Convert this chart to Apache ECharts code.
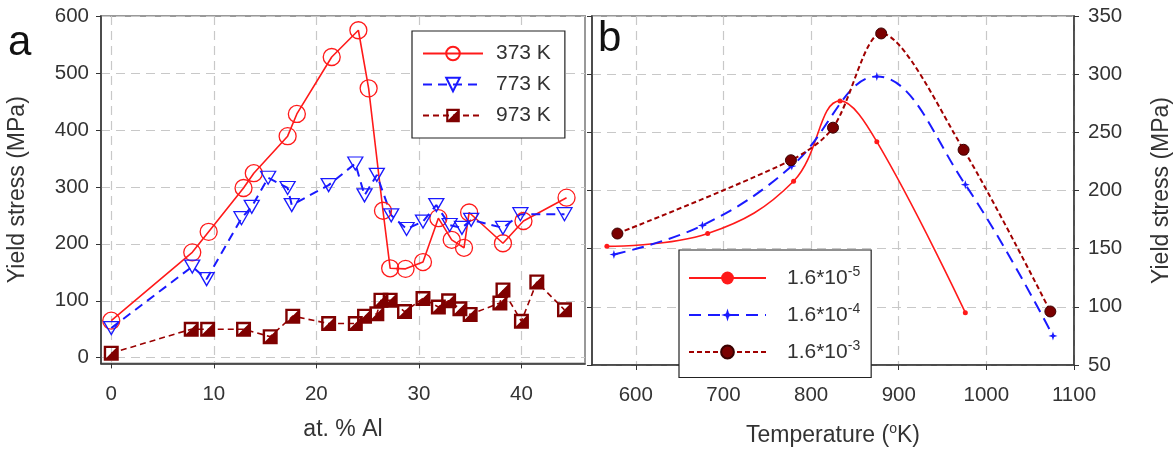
<!DOCTYPE html>
<html>
<head>
<meta charset="utf-8">
<script src="https://cdn.jsdelivr.net/npm/echarts@6/dist/echarts.min.js"></script>
<style>html,body{margin:0;padding:0;background:#fff}#c{width:1174px;height:453px}</style>
</head>
<body>
<div id="c"></div>
<script>
// ---- Panel a data: yield stress (MPa) vs at.% Al ----
const k373 = [[0,65],[7.9,185],[9.5,221],[12.9,298],[13.9,324],[17.2,389],[18.1,428],[21.5,528],[24.1,575],[25.1,473],[26.5,258],[27.2,157],[28.7,156],[30.4,168],[31.9,245],[33.2,207],[34.4,193],[34.9,255],[38.2,201],[40.2,240],[44.4,281]];
const k773 = [[0,52],[7.9,160],[9.3,138],[12.7,245],[13.7,265],[15.3,316],[17.2,298],[17.6,268],[21.2,303],[23.8,341],[24.7,285],[25.9,321],[27.3,250],[28.8,226],[30.4,239],[31.7,268],[33.0,233],[34.2,228],[35.1,242],[38.2,228],[39.9,252],[44.2,252]];
const k973 = [[0,8],[7.8,50],[9.4,50],[12.9,50],[15.5,37],[17.7,73],[21.2,60],[23.8,60],[24.7,73],[25.9,77],[26.3,101],[27.2,101],[28.6,81],[30.4,104],[31.9,89],[32.9,100],[34.0,86],[35.0,76],[37.9,96],[38.2,119],[40.0,64],[41.5,133],[44.2,84]];
const aXTicks = [0,10,20,30,40];
const aYTicks = [0,100,200,300,400,500,600];
const aNames = ['373 K','773 K','973 K'];

// ---- Panel b data: yield stress (MPa) vs temperature (K) ----
const r5 = [[567,152],[682,163],[780,208],[833,277],[875,242],[976,95]];
const r4 = [[575,145],[676,170],[778,221],[875,298],[976,205],[1076,75]];
const r3 = [[579,163],[777,226],[825,254],[880,335],[974,235],[1073,96]];
const bXTicks = [600,700,800,900,1000,1100];
const bNames = ['1.6*10^-5','1.6*10^-4','1.6*10^-3'];
const bSup = {'1.6*10^-5':'-5','1.6*10^-4':'-4','1.6*10^-3':'-3'};

const FONT = '"Liberation Sans", Arial, sans-serif';
const AX = '#333';
const GRIDC = '#c8c8c8';
const halfSquare = 'path://M0,0 L10,0 L10,10 L0,10 Z M1.6,1.6 L1.6,8.2 L8.2,1.6 Z';
const star4 = 'path://M5,0 L6.2,3.8 L10,5 L6.2,6.2 L5,10 L3.8,6.2 L0,5 L3.8,3.8 Z';

const chart = echarts.init(document.getElementById('c'), null, {renderer:'canvas'});
const tickLbl = {color:AX, fontSize:20.5, fontFamily:FONT, formatter: v => String(v)};
const split = {show:true, lineStyle:{color:GRIDC, type:[9,6], width:1.2}};
const axLine = {show:true, onZero:false, lineStyle:{color:AX, width:1.5}};

chart.setOption({
  animation:false,
  backgroundColor:'#fff',
  graphic:[
    {type:'text', left:8, top:22, style:{text:'a', fontSize:42, fontFamily:FONT, fill:'#111'}},
    {type:'text', left:598, top:18, style:{text:'b', fontSize:42, fontFamily:FONT, fill:'#111'}}
  ],
  grid:[
    {left:101, top:16, width:484, height:347.4, show:true, borderColor:'#999', borderWidth:2, backgroundColor:'transparent'},
    {left:592, top:16, width:482, height:349, show:true, borderColor:'#999', borderWidth:2, backgroundColor:'transparent'}
  ],
  legend:[
    {data:aNames, orient:'vertical', left:412, top:31, padding:[12,14,12,10],
     itemWidth:60, itemHeight:17, itemGap:10, backgroundColor:'#fff', borderColor:'#222', borderWidth:1.2,
     textStyle:{fontSize:21, fontFamily:FONT, color:AX, padding:[0,0,0,8]}},
    {data:bNames, orient:'vertical', left:679, top:250, padding:[15,11,15,9],
     itemWidth:77, itemHeight:16, itemGap:13.5, backgroundColor:'#fff', borderColor:'#222', borderWidth:1.2,
     formatter: n => '{t|1.6*10}{s|' + bSup[n] + '}',
     textStyle:{fontSize:21, fontFamily:FONT, color:AX, padding:[0,0,0,16],
       rich:{t:{fontSize:21, fontFamily:FONT, color:AX}, s:{fontSize:14, fontFamily:FONT, color:AX, padding:[0,0,12,0]}}}}
  ],
  xAxis:[
    {gridIndex:0, type:'value', min:-1, max:46.2,
     axisLine:axLine,
     axisTick:{show:true, customValues:aXTicks, length:5, lineStyle:{color:AX}},
     axisLabel:{customValues:aXTicks, margin:20, ...tickLbl},
     splitLine:split,
     name:'at. % Al', nameLocation:'middle', nameGap:55, nameTextStyle:{fontSize:23, fontFamily:FONT, color:AX}},
    {gridIndex:1, type:'value', min:550, max:1100,
     axisLine:axLine,
     axisTick:{show:true, customValues:bXTicks, length:5, lineStyle:{color:AX}},
     axisLabel:{customValues:bXTicks, margin:20, ...tickLbl},
     splitLine:split,
     name:'{t|Temperature (}{s|o}{t|K)}', nameLocation:'middle', nameGap:57,
     nameTextStyle:{fontSize:23, fontFamily:FONT, color:AX,
       rich:{t:{fontSize:23, fontFamily:FONT, color:AX}, s:{fontSize:14, fontFamily:FONT, color:AX, padding:[0,0,14,0]}}}}
  ],
  yAxis:[
    {gridIndex:0, type:'value', min:-10, max:600,
     axisLine:axLine,
     axisTick:{show:true, customValues:aYTicks, length:5, lineStyle:{color:AX}},
     axisLabel:{customValues:aYTicks, margin:12, ...tickLbl},
     splitLine:split,
     name:'Yield stress (MPa)', nameLocation:'middle', nameGap:72, nameRotate:90,
     nameTextStyle:{fontSize:23, fontFamily:FONT, color:AX}},
    {gridIndex:1, type:'value', position:'right', min:50, max:350, interval:50,
     axisLine:axLine,
     axisTick:{show:true, length:5, lineStyle:{color:AX}},
     axisLabel:{margin:14, ...tickLbl},
     splitLine:split,
     name:'Yield stress (MPa)', nameLocation:'middle', nameGap:76, nameRotate:90,
     nameTextStyle:{fontSize:23, fontFamily:FONT, color:AX}},
    {gridIndex:1, type:'value', position:'left', min:50, max:350, interval:50,
     axisLine:axLine,
     axisTick:{show:true, length:5, lineStyle:{color:AX}},
     axisLabel:{show:false}, splitLine:{show:false}}
  ],
  series:[
    {name:aNames[0], type:'line', xAxisIndex:0, yAxisIndex:0, data:k373, symbol:'circle', symbolSize:17,
     itemStyle:{color:'rgba(255,255,255,0)', borderColor:'#ff1a1a', borderWidth:1.3},
     lineStyle:{color:'#ff1a1a', width:1.6}, z:3},
    {name:aNames[1], type:'line', xAxisIndex:0, yAxisIndex:0, data:k773, symbol:'triangle', symbolRotate:180, symbolSize:[15,13],
     itemStyle:{color:'rgba(255,255,255,0)', borderColor:'#1a1aff', borderWidth:1.3},
     lineStyle:{color:'#1a1aff', width:2, type:[9,6]}, z:3},
    {name:aNames[2], type:'line', xAxisIndex:0, yAxisIndex:0, data:k973, symbol:halfSquare, symbolSize:15,
     itemStyle:{color:'#7f0000'},
     lineStyle:{color:'#990000', width:1.6, type:[6,4]}, z:3},

    {name:bNames[0], type:'line', xAxisIndex:1, yAxisIndex:1, data:r5, smooth:0.4, symbol:'circle', symbolSize:5,
     itemStyle:{color:'#ff1a1a'}, lineStyle:{color:'#ff1a1a', width:1.6}, z:3},
    {name:bNames[1], type:'line', xAxisIndex:1, yAxisIndex:1, data:r4, smooth:0.4, symbol:star4, symbolSize:9,
     itemStyle:{color:'#1a1aff'}, lineStyle:{color:'#1a1aff', width:2, type:[12,7]}, z:3},
    {name:bNames[2], type:'line', xAxisIndex:1, yAxisIndex:1, data:r3, smooth:0.3, symbol:'circle', symbolSize:11,
     itemStyle:{color:'#7a0000', borderColor:'#3a0000', borderWidth:1}, lineStyle:{color:'#a00000', width:2, type:[5,3]}, z:4}
  ]
});
</script>
</body>
</html>
